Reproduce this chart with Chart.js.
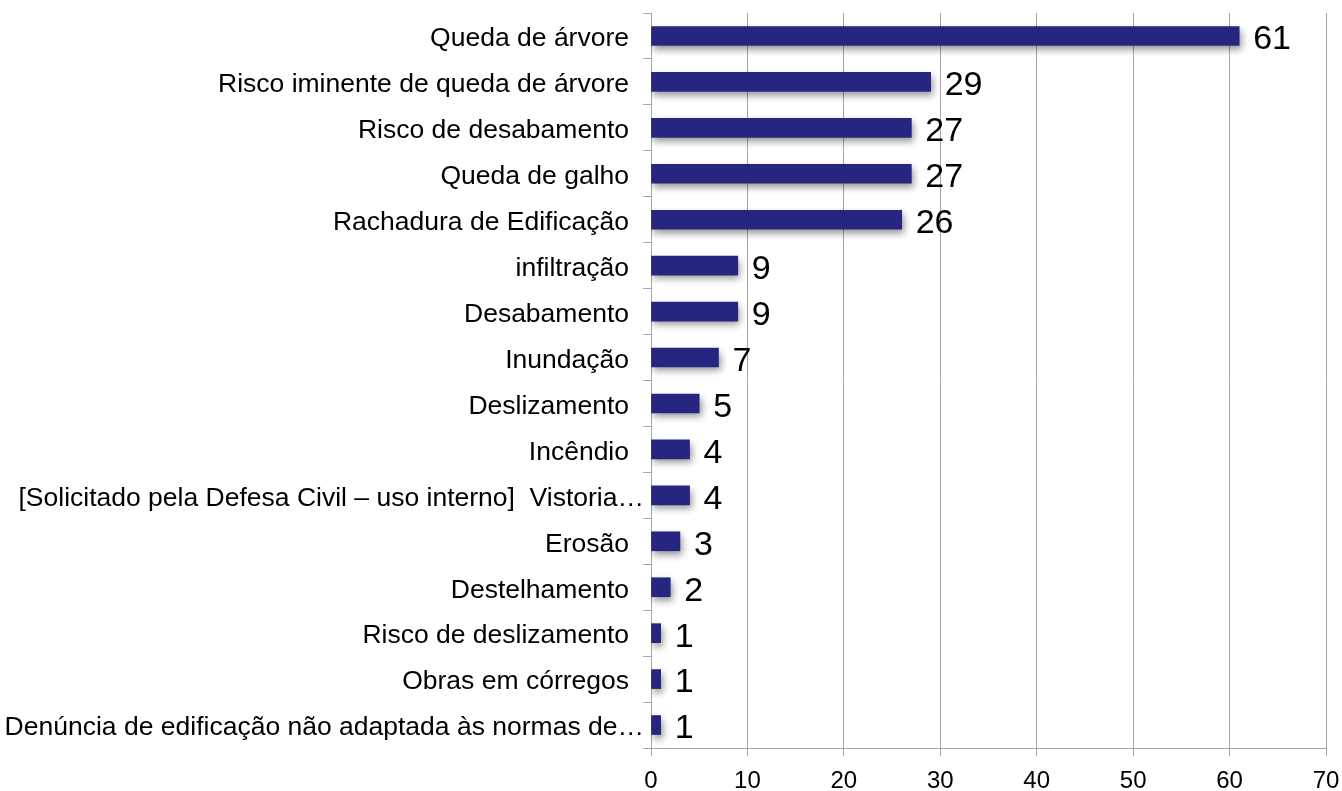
<!DOCTYPE html>
<html>
<head>
<meta charset="utf-8">
<script src="https://cdn.jsdelivr.net/npm/chart.js@4/dist/chart.umd.min.js"></script>
<style>
html,body{margin:0;padding:0;background:#fff;}
#wrap{width:1342px;height:791px;position:relative;}
</style>
</head>
<body>
<div id="wrap"><canvas id="c" width="1342" height="791"></canvas></div>
<script>
const categories = [
  "Queda de árvore",
  "Risco iminente de queda de árvore",
  "Risco de desabamento",
  "Queda de galho",
  "Rachadura de Edificação",
  "infiltração",
  "Desabamento",
  "Inundação",
  "Deslizamento",
  "Incêndio",
  "[Solicitado pela Defesa Civil – uso interno]  Vistoria…",
  "Erosão",
  "Destelhamento",
  "Risco de deslizamento",
  "Obras em córregos",
  "Denúncia de edificação não adaptada às normas de…"
];
const values = [61, 29, 27, 27, 26, 9, 9, 7, 5, 4, 4, 3, 2, 1, 1, 1];
const xTicks = [0, 10, 20, 30, 40, 50, 60, 70];

const FONT = "'Liberation Sans', Arial, sans-serif";

function barFill(context) {
  const chart = context.chart;
  const el = context.element;
  if (!el || el.y === undefined || isNaN(el.y)) return '#262680';
  const h = 19;
  const top = el.y - h / 2;
  const g = chart.ctx.createLinearGradient(0, top, 0, top + h);
  g.addColorStop(0, '#7070b8');
  g.addColorStop(0.2, '#4a4aa0');
  g.addColorStop(0.45, '#27278a');
  g.addColorStop(0.8, '#222286');
  g.addColorStop(1, '#30308e');
  return g;
}

const shadowPlugin = {
  id: 'shadow',
  beforeDatasetsDraw(chart) {
    const ctx = chart.ctx;
    ctx.save();
    ctx.shadowColor = 'rgba(0,0,0,0.4)';
    ctx.shadowBlur = 7;
    ctx.shadowOffsetX = 2;
    ctx.shadowOffsetY = 4;
  },
  afterDatasetsDraw(chart) {
    chart.ctx.restore();
  }
};

// nudge category labels: slight downward shift, and truncated labels overflow to the right
const labelNudge = {
  id: 'labelNudge',
  beforeDraw(chart) {
    const items = chart.scales.y.getLabelItems();
    items.forEach(it => {
      if (it._nudged) return;
      it._nudged = true;
      it.options.translation[1] += 3;
      const lbl = Array.isArray(it.label) ? it.label.join('') : String(it.label);
      if (lbl.endsWith('…')) it.options.translation[0] += 15;
    });
  }
};

const labelPlugin = {
  id: 'valueLabels',
  afterDatasetsDraw(chart) {
    const ctx = chart.ctx;
    const meta = chart.getDatasetMeta(0);
    ctx.save();
    ctx.font = "34px " + FONT;
    ctx.fillStyle = '#000';
    ctx.textAlign = 'left';
    ctx.textBaseline = 'middle';
    meta.data.forEach((bar, i) => {
      ctx.fillText(String(values[i]), bar.x + 14, bar.y + 4);
    });
    ctx.restore();
  }
};

new Chart(document.getElementById('c'), {
  type: 'bar',
  data: {
    labels: categories,
    datasets: [{
      data: values,
      backgroundColor: barFill,
      borderWidth: 0,
      barThickness: 19
    }]
  },
  plugins: [labelNudge, shadowPlugin, labelPlugin],
  options: {
    indexAxis: 'y',
    responsive: false,
    animation: false,
    layout: { padding: { top: 13, right: 16, left: 0, bottom: 0 } },
    plugins: { legend: { display: false }, tooltip: { enabled: false } },
    scales: {
      x: {
        min: 0, max: 70,
        afterBuildTicks(scale) { scale.ticks = xTicks.map(v => ({ value: v })); },
        afterFit(scale) { scale.height = 43; scale.paddingLeft = 0; scale.paddingRight = 0; },
        grid: { color: '#a6a6a6', lineWidth: 1, tickLength: 8, drawTicks: true },
        border: { color: '#a6a6a6', width: 1 },
        ticks: { color: '#000', font: { family: FONT, size: 24 }, padding: 11 }
      },
      y: {
        afterFit(scale) { scale.width = 651; scale.paddingTop = 0; scale.paddingBottom = 0; },
        grid: { offset: true, drawOnChartArea: false, color: '#a6a6a6', tickLength: 8 },
        border: { color: '#a6a6a6', width: 1 },
        ticks: { color: '#000', font: { family: FONT, size: 26.5 }, padding: 14, autoSkip: false }
      }
    }
  }
});
</script>
</body>
</html>
